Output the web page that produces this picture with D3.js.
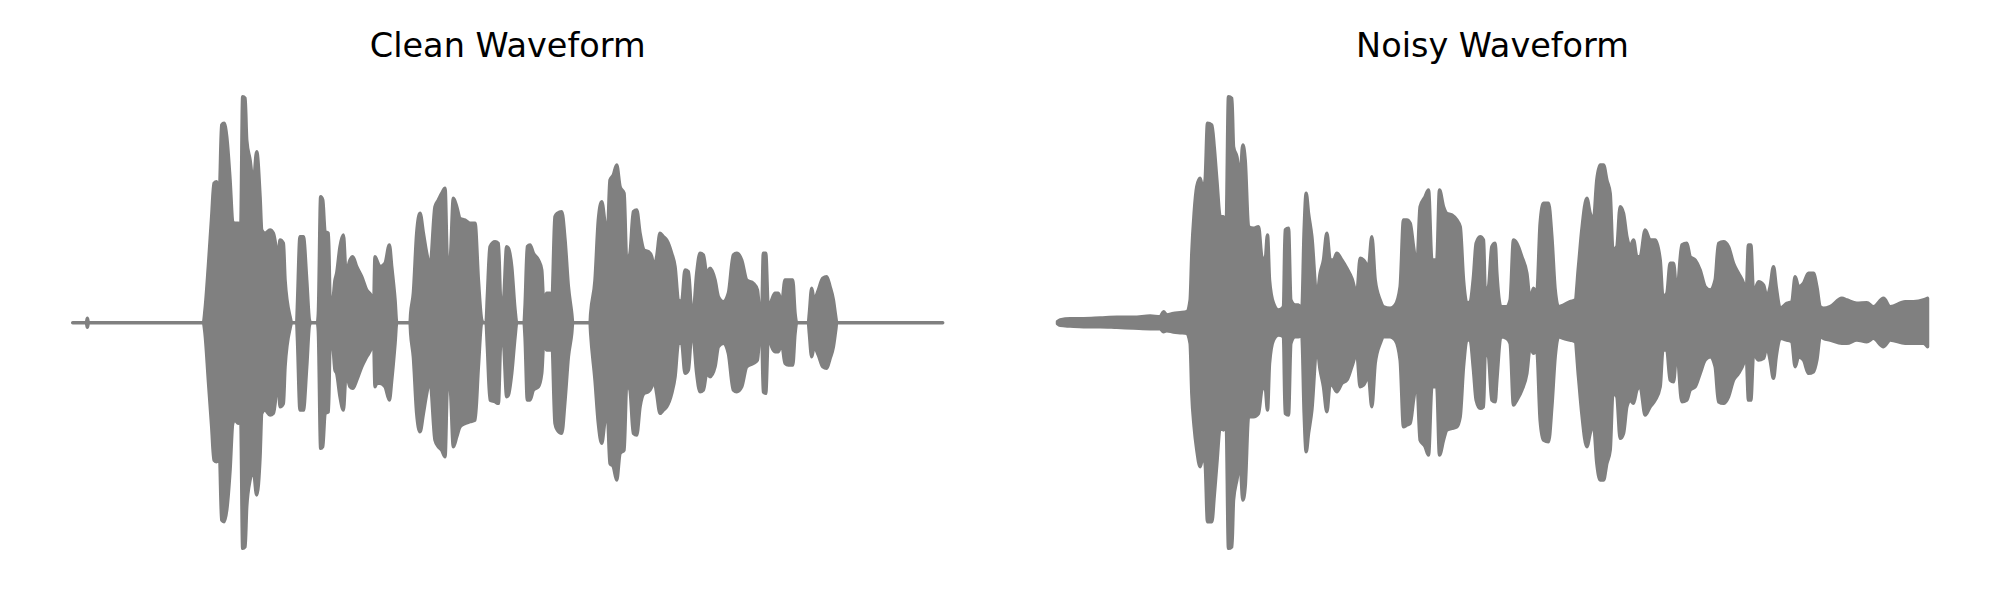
<!DOCTYPE html>
<html>
<head>
<meta charset="utf-8">
<script src="https://cdn.jsdelivr.net/npm/d3@7"></script>
<style>
  html, body { margin: 0; padding: 0; background: #fff; }
  svg { display: block; }
</style>
</head>
<body>
<div id="chart"></div>
<script>
// ---- DATA: envelope of the waveforms (time in ms, amplitude top / bottom) ----
const titles = ["Clean Waveform", "Noisy Waveform"];
const duration = 2610;

const cleanTime = [0,41,44,47,392,397,407,417,424,432,440,447,454,462,472,480,487,497,504,510,517,522,532,542,552,562,567,577,592,602,617,622,632,637,652,657,672,674,682,692,702,710,714,734,737,744,750,757,767,772,780,787,792,802,812,820,832,840,852,867,882,897,902,907,912,922,937,950,957,967,972,1012,1014,1022,1032,1042,1052,1062,1072,1087,1097,1107,1117,1124,1132,1142,1152,1162,1177,1192,1207,1217,1227,1232,1240,1244,1252,1267,1277,1284,1292,1302,1307,1317,1327,1332,1354,1357,1364,1372,1382,1397,1407,1414,1422,1432,1437,1447,1454,1467,1477,1487,1497,1500,1552,1554,1567,1577,1587,1597,1604,1612,1622,1632,1642,1654,1662,1672,1682,1692,1702,1714,1727,1737,1744,1752,1762,1772,1782,1797,1807,1817,1827,1837,1847,1857,1862,1872,1882,1892,1902,1912,1927,1937,1952,1967,1982,1992,2007,2022,2042,2054,2062,2067,2072,2079,2087,2097,2107,2117,2127,2137,2147,2160,2167,2172,2207,2210,2217,2224,2237,2250,2262,2272,2282,2289,2292,2610];
const cleanTop = [0,0,0.013,0,0,0.038,0.168,0.318,0.418,0.423,0.388,0.593,0.598,0.558,0.428,0.303,0.298,0.298,0.278,0.678,0.673,0.548,0.488,0.418,0.513,0.378,0.278,0.268,0.278,0.268,0.198,0.248,0.238,0.128,0.018,0,0,0.048,0.258,0.258,0.128,0.008,0,0,0.028,0.378,0.368,0.273,0.268,0.078,0.068,0.128,0.148,0.228,0.263,0.148,0.188,0.198,0.168,0.138,0.098,0.078,0.008,0.198,0.188,0.168,0.178,0.233,0.168,0.068,0,0,0.028,0.088,0.268,0.328,0.268,0.208,0.168,0.348,0.368,0.388,0.403,0.188,0.188,0.373,0.348,0.313,0.308,0.298,0.298,0.128,0.008,0,0,0.078,0.228,0.243,0.238,0.068,0.068,0.228,0.223,0.168,0.038,0,0,0.048,0.228,0.233,0.208,0.188,0.158,0.038,0.088,0.088,0.048,0.318,0.328,0.333,0.248,0.108,0.028,0,0,0.028,0.128,0.308,0.363,0.298,0.258,0.428,0.443,0.473,0.408,0.388,0.183,0.208,0.333,0.338,0.268,0.218,0.213,0.198,0.168,0.198,0.268,0.258,0.248,0.208,0.168,0.068,0.063,0.158,0.153,0.038,0.038,0.148,0.208,0.203,0.148,0.163,0.128,0.078,0.063,0.088,0.203,0.208,0.188,0.128,0.118,0.098,0.028,0.028,0.208,0.208,0.038,0.068,0.088,0.088,0.058,0.128,0.128,0.128,0.028,0,0,0.028,0.103,0.068,0.098,0.133,0.138,0.108,0.068,0.018,0,0];
const cleanBottom = [0,0,-0.014,0,0,-0.032,-0.172,-0.312,-0.412,-0.417,-0.382,-0.592,-0.597,-0.562,-0.442,-0.302,-0.292,-0.302,-0.272,-0.677,-0.672,-0.552,-0.472,-0.442,-0.517,-0.402,-0.272,-0.262,-0.277,-0.272,-0.172,-0.252,-0.242,-0.132,-0.017,0,0,-0.042,-0.262,-0.262,-0.132,-0.008,0,0,-0.025,-0.377,-0.372,-0.272,-0.267,-0.072,-0.072,-0.142,-0.152,-0.222,-0.262,-0.152,-0.192,-0.197,-0.172,-0.132,-0.102,-0.072,-0.010,-0.192,-0.182,-0.182,-0.192,-0.232,-0.172,-0.062,0,0,-0.032,-0.102,-0.272,-0.327,-0.272,-0.212,-0.172,-0.352,-0.372,-0.382,-0.402,-0.192,-0.192,-0.372,-0.342,-0.312,-0.302,-0.297,-0.292,-0.132,0,0,0,-0.072,-0.232,-0.237,-0.242,-0.062,-0.062,-0.222,-0.217,-0.152,-0.042,0,0,-0.042,-0.232,-0.232,-0.202,-0.192,-0.152,-0.042,-0.082,-0.082,-0.042,-0.302,-0.322,-0.332,-0.232,-0.102,-0.032,0,0,-0.032,-0.172,-0.302,-0.362,-0.292,-0.272,-0.422,-0.432,-0.472,-0.392,-0.382,-0.182,-0.202,-0.332,-0.337,-0.252,-0.212,-0.207,-0.192,-0.172,-0.212,-0.272,-0.262,-0.252,-0.212,-0.162,-0.062,-0.062,-0.152,-0.142,-0.032,-0.042,-0.152,-0.207,-0.202,-0.152,-0.162,-0.132,-0.072,-0.062,-0.092,-0.202,-0.207,-0.192,-0.132,-0.122,-0.112,-0.032,-0.032,-0.207,-0.212,-0.032,-0.072,-0.087,-0.087,-0.062,-0.122,-0.127,-0.127,-0.032,0,0,-0.032,-0.102,-0.072,-0.097,-0.132,-0.137,-0.107,-0.072,-0.022,0,0];

const noisyTime = [0,8,38,78,128,178,228,278,308,318,328,348,368,388,398,403,410,418,428,436,443,450,463,470,478,488,498,506,513,523,528,538,548,556,563,573,588,603,613,623,630,636,648,663,678,683,693,700,713,723,733,740,746,753,763,778,788,798,808,818,828,838,853,868,883,898,908,918,933,943,953,968,978,998,1013,1028,1038,1048,1058,1068,1078,1088,1103,1113,1123,1138,1146,1158,1168,1183,1198,1208,1218,1228,1238,1248,1256,1268,1278,1283,1293,1303,1313,1318,1330,1348,1358,1368,1378,1393,1408,1418,1428,1438,1448,1458,1473,1483,1493,1503,1518,1538,1553,1563,1573,1588,1598,1608,1618,1628,1638,1648,1658,1666,1678,1688,1698,1708,1718,1728,1738,1748,1763,1778,1793,1808,1816,1828,1838,1848,1858,1873,1888,1898,1913,1928,1943,1958,1973,1983,1998,2013,2028,2043,2058,2066,2073,2080,2088,2103,2118,2128,2138,2148,2156,2168,2188,2203,2213,2223,2238,2253,2268,2278,2288,2298,2318,2353,2368,2398,2428,2448,2478,2498,2543,2568,2598,2610];
const noisyTop = [0.003,0.008,0.012,0.012,0.014,0.016,0.016,0.020,0.018,0.033,0.023,0.028,0.030,0.033,0.068,0.208,0.328,0.408,0.433,0.398,0.428,0.598,0.593,0.528,0.428,0.318,0.318,0.288,0.678,0.673,0.528,0.498,0.438,0.533,0.488,0.288,0.283,0.288,0.198,0.188,0.263,0.128,0.058,0.038,0.048,0.278,0.283,0.068,0.053,0.053,0.038,0.278,0.388,0.328,0.258,0.078,0.148,0.188,0.268,0.188,0.188,0.208,0.188,0.163,0.133,0.088,0.193,0.188,0.168,0.258,0.128,0.068,0.048,0.043,0.053,0.108,0.308,0.308,0.298,0.228,0.168,0.348,0.378,0.398,0.188,0.188,0.398,0.348,0.328,0.323,0.308,0.288,0.128,0.058,0.063,0.138,0.238,0.258,0.248,0.098,0.108,0.228,0.238,0.148,0.048,0.048,0.068,0.248,0.238,0.198,0.148,0.068,0.103,0.088,0.298,0.358,0.358,0.258,0.098,0.048,0.053,0.063,0.068,0.168,0.278,0.373,0.328,0.308,0.428,0.473,0.473,0.428,0.388,0.218,0.228,0.348,0.328,0.258,0.228,0.248,0.198,0.198,0.278,0.248,0.248,0.188,0.078,0.088,0.178,0.178,0.088,0.233,0.238,0.198,0.188,0.158,0.108,0.098,0.128,0.238,0.243,0.228,0.178,0.148,0.118,0.088,0.233,0.233,0.088,0.123,0.113,0.078,0.108,0.168,0.108,0.043,0.058,0.063,0.138,0.108,0.118,0.148,0.148,0.108,0.048,0.043,0.048,0.073,0.068,0.058,0.060,0.048,0.073,0.048,0.063,0.063,0.068,0.073];
const noisyBottom = [-0.003,-0.008,-0.010,-0.012,-0.012,-0.014,-0.016,-0.018,-0.018,-0.027,-0.024,-0.028,-0.030,-0.032,-0.062,-0.212,-0.312,-0.382,-0.432,-0.402,-0.422,-0.597,-0.597,-0.522,-0.422,-0.312,-0.322,-0.292,-0.677,-0.672,-0.532,-0.472,-0.422,-0.532,-0.492,-0.282,-0.282,-0.272,-0.202,-0.192,-0.262,-0.122,-0.052,-0.037,-0.042,-0.272,-0.277,-0.062,-0.042,-0.042,-0.037,-0.272,-0.387,-0.332,-0.262,-0.072,-0.142,-0.192,-0.267,-0.182,-0.192,-0.207,-0.182,-0.172,-0.132,-0.092,-0.192,-0.187,-0.162,-0.252,-0.122,-0.062,-0.042,-0.042,-0.052,-0.112,-0.312,-0.307,-0.302,-0.232,-0.172,-0.352,-0.372,-0.397,-0.192,-0.192,-0.397,-0.352,-0.322,-0.317,-0.312,-0.282,-0.132,-0.052,-0.052,-0.142,-0.232,-0.257,-0.252,-0.092,-0.102,-0.232,-0.237,-0.172,-0.042,-0.047,-0.062,-0.247,-0.232,-0.202,-0.152,-0.072,-0.092,-0.082,-0.292,-0.352,-0.357,-0.252,-0.102,-0.042,-0.047,-0.052,-0.057,-0.162,-0.272,-0.372,-0.332,-0.302,-0.422,-0.472,-0.472,-0.422,-0.382,-0.212,-0.222,-0.347,-0.332,-0.252,-0.232,-0.242,-0.202,-0.192,-0.277,-0.252,-0.232,-0.192,-0.082,-0.082,-0.172,-0.177,-0.082,-0.237,-0.232,-0.202,-0.192,-0.152,-0.112,-0.102,-0.132,-0.237,-0.242,-0.222,-0.172,-0.152,-0.122,-0.092,-0.232,-0.232,-0.092,-0.112,-0.107,-0.072,-0.112,-0.167,-0.102,-0.047,-0.052,-0.057,-0.132,-0.102,-0.112,-0.152,-0.147,-0.112,-0.042,-0.047,-0.052,-0.062,-0.062,-0.052,-0.057,-0.047,-0.072,-0.052,-0.062,-0.062,-0.062,-0.072];

// ---- LAYOUT ----
const W = 2000, H = 600;
const waveColor = "#808080";
const panels = [
  { title: titles[0], time: cleanTime, top: cleanTop, bottom: cleanBottom, x0: 72.7, x1: 942.7 },
  { title: titles[1], time: noisyTime, top: noisyTop, bottom: noisyBottom, x0: 1057.5, x1: 1927.5 }
];

const svg = d3.select("#chart").append("svg")
  .attr("width", W).attr("height", H)
  .style("background", "#fff");

const y = d3.scaleLinear().domain([-0.75, 0.75]).range([572.7, 72.7]);

panels.forEach(p => {
  const x = d3.scaleLinear().domain([0, duration]).range([p.x0, p.x1]);
  const pts = p.time.map((t, i) => ({ t, hi: p.top[i], lo: p.bottom[i] }));
  const area = d3.area()
    .x(d => x(d.t))
    .y0(d => y(d.lo))
    .y1(d => y(d.hi))
    .curve(d3.curveMonotoneX);
  svg.append("path")
    .datum(pts)
    .attr("d", area)
    .attr("fill", waveColor)
    .attr("stroke", waveColor)
    .attr("stroke-width", 3.5)
    .attr("stroke-linejoin", "round");
  svg.append("text")
    .attr("x", (p.x0 + p.x1) / 2)
    .attr("y", 57)
    .attr("text-anchor", "middle")
    .attr("font-family", "DejaVu Sans")
    .attr("font-size", 33.5)
    .attr("fill", "#000")
    .text(p.title);
});
</script>
</body>
</html>
